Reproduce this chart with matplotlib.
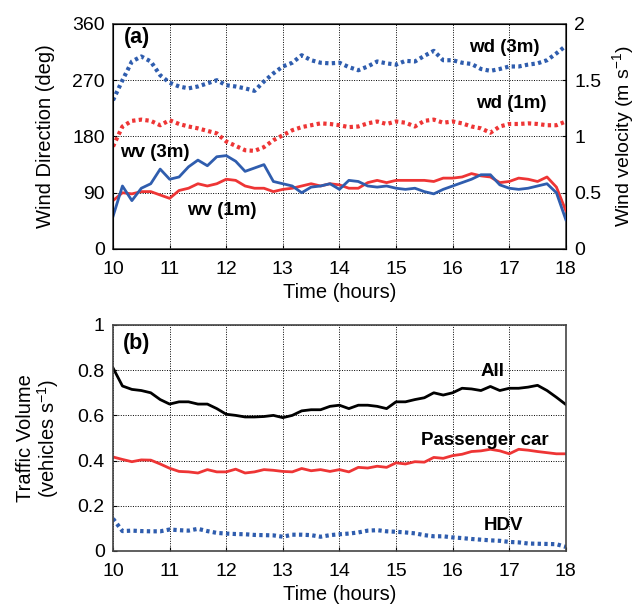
import numpy as np
import matplotlib
matplotlib.use("Agg")
import matplotlib.pyplot as plt

plt.rcParams['font.family'] = ['Liberation Sans', 'DejaVu Sans']
plt.rcParams['mathtext.fontset'] = 'custom'
plt.rcParams['mathtext.rm'] = 'Liberation Sans'
plt.rcParams['mathtext.it'] = 'Liberation Sans:italic'

# time axis: 10-minute steps from 10:00 to 18:00
hours = 10 + np.arange(49) / 6.0

# (a) wind direction (deg)
wd_3m = [238, 270, 300, 308, 300, 278, 266, 260, 257, 260, 265, 270, 262,
         260, 257, 253, 268, 281, 292, 298, 310, 302, 298, 297, 298, 291,
         286, 292, 300, 297, 295, 301, 300, 309, 317, 302, 302, 298, 296,
         288, 285, 288, 292, 292, 295, 297, 302, 313, 325]
wd_1m = [164, 196, 205, 207, 205, 198, 206, 200, 196, 193, 189, 185, 172,
         165, 158, 157, 163, 174, 182, 190, 195, 198, 201, 200, 198, 195,
         196, 201, 204, 200, 204, 202, 196, 205, 207, 202, 204, 201, 196,
         193, 186, 196, 200, 200, 201, 200, 198, 198, 204]

# (a) wind velocity (m/s)
wv_3m = [0.29, 0.56, 0.43, 0.54, 0.58, 0.71, 0.62, 0.64, 0.73, 0.79, 0.74,
         0.82, 0.83, 0.78, 0.69, 0.72, 0.75, 0.60, 0.58, 0.56, 0.50, 0.55,
         0.56, 0.58, 0.53, 0.61, 0.60, 0.56, 0.55, 0.56, 0.54, 0.53, 0.54,
         0.51, 0.49, 0.53, 0.56, 0.59, 0.62, 0.66, 0.66, 0.57, 0.54, 0.53,
         0.54, 0.56, 0.58, 0.50, 0.26]
wv_1m = [0.43, 0.50, 0.49, 0.51, 0.51, 0.48, 0.45, 0.52, 0.54, 0.58, 0.56,
         0.58, 0.62, 0.61, 0.56, 0.54, 0.54, 0.51, 0.53, 0.54, 0.56, 0.58,
         0.56, 0.58, 0.57, 0.54, 0.54, 0.59, 0.61, 0.59, 0.61, 0.61, 0.61,
         0.61, 0.60, 0.63, 0.63, 0.64, 0.67, 0.65, 0.64, 0.59, 0.60, 0.63,
         0.62, 0.60, 0.64, 0.55, 0.34]

# (b) traffic volume (vehicles/s)
tv_all = [0.81, 0.73, 0.715, 0.71, 0.70, 0.67, 0.65, 0.66, 0.66, 0.65, 0.65,
          0.63, 0.605, 0.60, 0.593, 0.593, 0.595, 0.60, 0.59, 0.60, 0.62,
          0.625, 0.625, 0.64, 0.645, 0.63, 0.645, 0.645, 0.64, 0.63, 0.66,
          0.66, 0.67, 0.678, 0.70, 0.69, 0.70, 0.72, 0.717, 0.71, 0.728,
          0.71, 0.72, 0.72, 0.725, 0.733, 0.71, 0.68, 0.648]
tv_car = [0.416, 0.405, 0.395, 0.403, 0.402, 0.385, 0.366, 0.352, 0.35,
          0.345, 0.36, 0.35, 0.35, 0.362, 0.345, 0.35, 0.36, 0.357, 0.352,
          0.35, 0.365, 0.355, 0.36, 0.352, 0.36, 0.35, 0.37, 0.367, 0.375,
          0.37, 0.39, 0.385, 0.395, 0.393, 0.414, 0.41, 0.422, 0.428, 0.44,
          0.443, 0.45, 0.443, 0.43, 0.45, 0.446, 0.44, 0.435, 0.43, 0.43]
tv_hdv = [0.143, 0.088, 0.09, 0.088, 0.087, 0.087, 0.095, 0.092, 0.09,
          0.098, 0.088, 0.08, 0.077, 0.075, 0.074, 0.071, 0.07, 0.069,
          0.063, 0.072, 0.072, 0.07, 0.063, 0.07, 0.074, 0.077, 0.082,
          0.09, 0.092, 0.087, 0.085, 0.082, 0.078, 0.07, 0.065, 0.065,
          0.06, 0.057, 0.053, 0.05, 0.047, 0.045, 0.04, 0.038, 0.033,
          0.032, 0.031, 0.03, 0.018]

red = '#EE3535'
blue = '#2F5DAE'
dots = (0, (0.8, 0.8))

fig = plt.figure(figsize=(6.36, 6.07), dpi=100)
ax1 = fig.add_axes([0.1777, 0.5898, 0.712, 0.3707])
ax3 = fig.add_axes([0.1777, 0.0923, 0.712, 0.3723])


def style_axes(ax):
    ax.set_xlim(10, 18)
    ax.set_xticks(range(10, 19))
    ax.grid(True, color='black', linestyle=(0, (1, 1.5)), linewidth=0.7)
    ax.tick_params(direction='in', labelsize=14, length=3)
    ax.tick_params(axis='x', pad=9)
    ax.tick_params(axis='y', pad=6)
    for s in ax.spines.values():
        s.set_color('#444444')
        s.set_linewidth(1.2)
    ax.set_xlabel('Time (hours)', fontsize=14.5, labelpad=3)


# ---- panel (a) ----
ax1.plot(hours, wd_3m, color=blue, linestyle=dots, linewidth=3)
ax1.plot(hours, wd_1m, color=red, linestyle=dots, linewidth=3)
ax1.set_ylim(0, 360)
ax1.set_yticks([0, 90, 180, 270, 360])
style_axes(ax1)
ax1.set_ylabel('Wind Direction (deg)', fontsize=14.5, labelpad=12)

ax2 = ax1.twinx()
ax2.plot(hours, wv_1m, color=red, linewidth=2)
ax2.plot(hours, wv_3m, color=blue, linewidth=2)
ax2.set_ylim(0, 2)
ax2.set_yticks([0, 0.5, 1, 1.5, 2])
ax2.set_yticklabels(['0', '0.5', '1', '1.5', '2'])
ax2.tick_params(direction='in', labelsize=14, length=3, pad=6)
ax2.set_ylabel('Wind velocity (m s$^{-1}$)', fontsize=14, labelpad=6)

bold = dict(fontsize=13.5, fontweight='bold', ha='center', va='center')
ax1.text(10.42, 338, '(a)', **dict(bold, fontsize=15.5))
ax1.text(16.91, 323, 'wd (3m)', **bold)
ax1.text(17.03, 232, 'wd (1m)', **bold)
ax1.text(10.74, 154, 'wv (3m)', **bold)
ax1.text(11.93, 62, 'wv (1m)', **bold)

# ---- panel (b) ----
ax3.plot(hours, tv_all, color='black', linewidth=2)
ax3.plot(hours, tv_car, color=red, linewidth=2)
ax3.plot(hours, tv_hdv, color=blue, linestyle=dots, linewidth=3)
ax3.set_ylim(0, 1)
ax3.set_yticks([0, 0.2, 0.4, 0.6, 0.8, 1])
ax3.set_yticklabels(['0', '0.2', '0.4', '0.6', '0.8', '1'])
style_axes(ax3)
ax3.set_ylabel('Traffic Volume\n(vehicles s$^{-1}$)', fontsize=14.5,
               labelpad=12, linespacing=1.0)

ax3.text(10.42, 0.92, '(b)', **dict(bold, fontsize=15.5))
ax3.text(16.71, 0.792, 'All', **bold)
ax3.text(16.57, 0.491, 'Passenger car', **bold)
ax3.text(16.89, 0.111, 'HDV', **bold)

fig.savefig('out.png', dpi=100)
